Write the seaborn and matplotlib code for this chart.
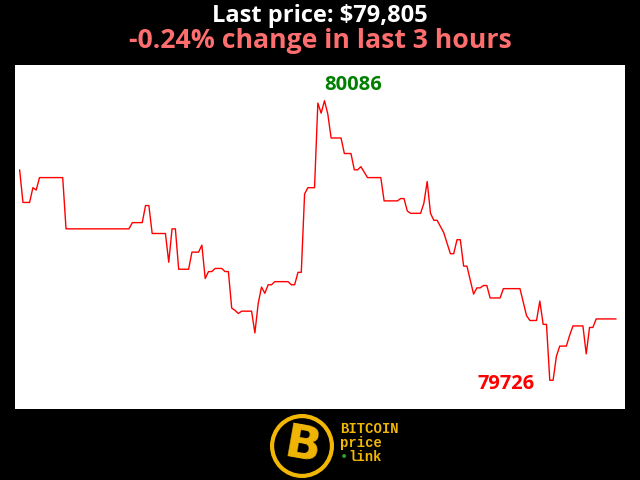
import matplotlib
matplotlib.use('Agg')
import matplotlib.pyplot as plt
from matplotlib.patches import Circle
import seaborn as sns
import pandas as pd

sns.set_style('white')

# minutes since start of the 3h window (line vertices) and BTC price
minutes = [0, 1, 3, 4, 5, 6, 13, 14, 33, 34, 37, 38, 39, 40, 44, 45, 46, 47, 48, 51,
           52, 54, 55, 56, 57, 58, 59, 61, 62, 63, 64, 65, 66, 67, 70, 71, 72, 73, 74, 75,
           76, 77, 81, 82, 83, 84, 85, 86, 87, 89, 90, 91, 92, 93, 94, 97, 98, 100, 101, 102,
           103, 105, 109, 110, 114, 115, 116, 117, 118, 121, 122, 123, 124, 125, 126, 128, 130, 131, 132, 133,
           134, 135, 137, 138, 139, 140, 141, 142, 145, 146, 151, 153, 154, 156, 157, 158, 159, 160, 161, 162,
           163, 165, 166, 167, 170, 171, 172, 173, 174, 180]
prices = [79997, 79955, 79955, 79974, 79971, 79987, 79987, 79921, 79921, 79929, 79929, 79951, 79951, 79915, 79915, 79878, 79921, 79921, 79869, 79869,
          79891, 79891, 79900, 79857, 79866, 79866, 79870, 79870, 79866, 79866, 79819, 79816, 79812, 79815, 79815, 79787, 79825, 79846, 79838, 79849,
          79849, 79853, 79853, 79849, 79849, 79865, 79865, 79966, 79974, 79974, 80083, 80070, 80086, 80069, 80038, 80038, 80018, 80018, 79997, 79997,
          80001, 79987, 79987, 79957, 79957, 79960, 79960, 79944, 79941, 79941, 79954, 79982, 79941, 79932, 79932, 79916, 79889, 79889, 79907, 79907,
          79873, 79873, 79837, 79845, 79845, 79848, 79848, 79832, 79832, 79844, 79844, 79809, 79803, 79803, 79828, 79798, 79798, 79726, 79726, 79757,
          79770, 79770, 79784, 79796, 79796, 79760, 79794, 79794, 79805, 79805]

last_price = 79805
change_pct = -0.24
title1 = f'Last price: ${last_price:,}'
title2 = f'{change_pct:.2f}% change in last 3 hours'

df = pd.DataFrame({'minute': minutes, 'price': prices})

fig = plt.figure(figsize=(6.4, 4.8), dpi=100, facecolor='black')
ax = fig.add_axes([15 / 640, 71 / 480, 610 / 640, 344 / 480])
ax.set_facecolor('white')
sns.lineplot(data=df, x='minute', y='price', ax=ax, color='red', lw=1)
ax.set_xlim(-1.4, 182.7)
ax.set_ylim(79689, 80132)
ax.set_xticks([])
ax.set_yticks([])
ax.set_xlabel('')
ax.set_ylabel('')
for s in ax.spines.values():
    s.set_visible(False)

# high / low labels
hi = df.loc[df.price.idxmax()]
lo = df.loc[df.price.idxmin()]
ax.annotate(str(int(hi.price)), (hi.minute, hi.price), xytext=(0, 4), textcoords='offset points',
            ha='left', va='bottom', color='green', fontsize=14.5, fontweight='bold',
            family='Open Sans')
ax.annotate(str(int(lo.price)), (lo.minute, lo.price), xytext=(-11, -3), textcoords='offset points',
            ha='right', va='center', color='red', fontsize=14.5, fontweight='bold',
            family='Open Sans')

fig.text(0.5, 1 - 16 / 480, title1, ha='center', va='center', color='white',
         fontsize=17, fontweight='bold', family='Open Sans')
fig.text(0.5, 1 - 41 / 480, title2, ha='center', va='center', color='#ff6e6e',
         fontsize=19.2, fontweight='bold', family='Open Sans')

# logo
gold = '#f2b705'
lax = fig.add_axes([268 / 640, 0, 68 / 640, 68 / 480])
lax.set_xlim(-1, 1)
lax.set_ylim(-1, 1)
lax.set_aspect('equal')
lax.axis('off')
lax.add_patch(Circle((0, 0), 0.88, fill=False, ec=gold, lw=3))
lax.text(0.02, -0.02, 'B', ha='center', va='center', color=gold, fontsize=34,
         fontweight='bold', family='DejaVu Sans', rotation=-10)
fig.text(340 / 640, 1 - 429 / 480, 'BITCOIN', color=gold, fontsize=10,
         fontweight='bold', family='Liberation Mono', va='center')
fig.text(340 / 640, 1 - 443 / 480, 'price', color=gold, fontsize=10,
         fontweight='bold', family='Liberation Mono', va='center')
fig.text(340 / 640, 1 - 457 / 480, '\u2022', color='#2e9e2e', fontsize=10,
         fontweight='bold', family='Liberation Mono', va='center')
fig.text(348 / 640, 1 - 457 / 480, 'link', color=gold, fontsize=10,
         fontweight='bold', family='Liberation Mono', va='center')

fig.savefig('out.png', dpi=100, facecolor='black')
